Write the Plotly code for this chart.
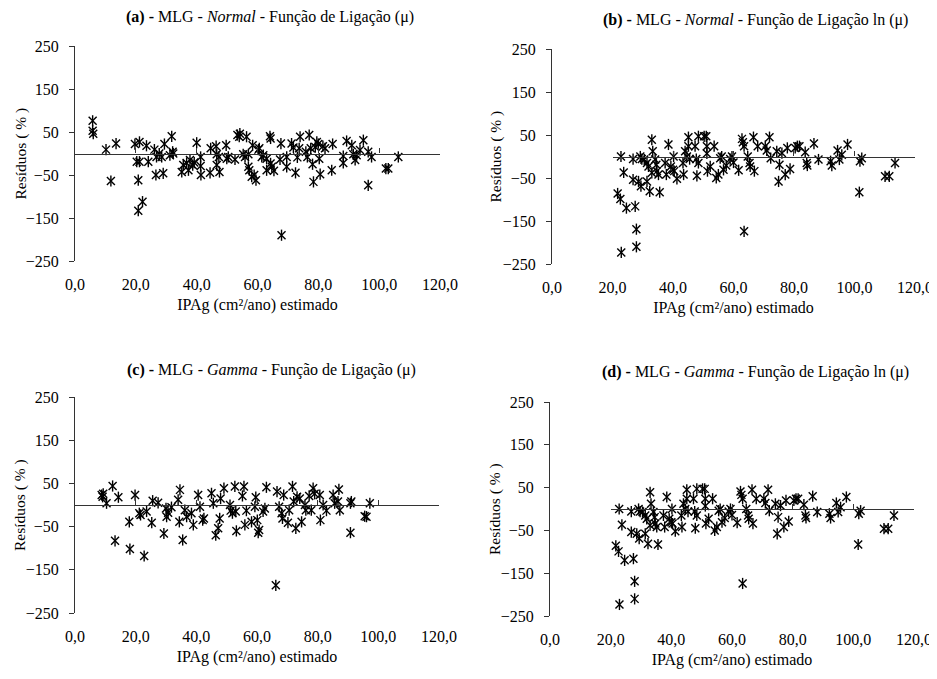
import plotly.graph_objects as go

# ---------------- data ----------------
x_a = [5.8, 5.8, 6.0, 10.2, 11.8, 13.5, 19.7, 21.2, 20.3, 21.2, 20.8, 22.2, 20.8, 23.5, 24.1, 26.1, 26.8, 26.6, 27.7, 28.5,
       29.0, 29.4, 31.2, 31.8, 32.1, 32.3, 35.1, 35.6, 36.7, 37.3, 37.8, 38.7, 39.2, 40.0, 41.3, 41.3, 41.4, 44.4, 44.6, 46.4,
       46.6, 46.6, 47.3, 47.5, 49.7, 49.9, 50.4, 52.6, 53.4, 54.0, 54.2, 55.3, 55.9, 56.4, 57.0, 57.0, 57.3, 58.1, 58.4, 58.9,
       59.5, 60.3, 60.6, 61.4, 61.9, 63.0, 63.0, 64.1, 64.3, 64.3, 64.7, 65.4, 67.4, 67.7, 67.9, 69.6, 69.6, 71.2, 71.8, 72.5,
       73.1, 73.7, 74.0, 75.9, 76.4, 77.0, 77.5, 78.1, 78.4, 79.0, 79.5, 80.0, 80.3, 80.6, 81.5, 82.2, 84.7, 84.4, 88.2, 88.2,
       89.3, 91.0, 91.5, 92.1, 92.6, 93.7, 94.8, 96.4, 96.4, 97.5, 102.2, 103.0, 106.3]
y_a = [76, 53, 46, 9, -64, 23, 22, 27, -19, -19, -62, -112, -133, 18, -19, 9, -8, -50, 0, -8,
       -46, 22, -4, 40, 4, 0, -43, -27, -22, -39, -15, -27, -21, 25, -8, -29, -50, -45, 12, 17,
       -2, -27, -8, -43, 19, -12, -8, -14, 43, 39, 46, -2, -8, 39, -2, -31, -39, -54, 19, -50,
       -62, 9, 12, -8, -4, -12, -39, 40, 35, -23, -31, -40, -14, 23, -190, -8, -31, 23, 14, -45,
       -9, 12, 39, 4, -8, 43, 12, -25, -66, 15, 27, 22, -12, -48, 17, 12, 22, -39, -6, -22,
       29, 19, -2, -15, -4, 8, 31, 4, -74, -8, -35, -35, -8]

x_b = [21.7, 22.6, 22.8, 22.9, 23.7, 24.6, 26.8, 26.8, 27.5, 27.9, 27.9, 28.6, 29.2, 29.4, 29.7, 30.5, 31.4, 31.4, 31.9, 32.3,
       33.0, 33.3, 33.0, 34.1, 34.5, 34.7, 35.2, 35.6, 37.4, 37.8, 38.5, 39.3, 40.0, 40.2, 40.4, 41.3, 43.3, 43.5, 44.0, 44.6,
       45.1, 45.1, 45.5, 47.3, 47.7, 47.9, 48.4, 48.4, 50.3, 51.0, 51.2, 51.2, 51.4, 52.3, 53.6, 54.3, 55.0, 55.6, 56.1, 56.7,
       57.6, 58.9, 59.5, 60.0, 61.7, 62.8, 63.1, 63.5, 63.5, 64.7, 65.3, 65.5, 66.6, 66.9, 68.0, 70.5, 71.0, 71.9, 72.3, 74.3,
       74.9, 75.2, 76.0, 77.1, 77.8, 78.7, 80.4, 81.1, 81.8, 83.7, 84.2, 84.4, 86.6, 88.1, 92.1, 92.5, 94.4, 95.0, 95.8, 97.7,
       101.6, 101.8, 102.4, 110.1, 111.5, 113.4]
y_b = [-86, -99, 0, -223, -37, -120, -6, -54, -116, -169, -210, -58, 0, -69, -6, -7, -15, -58, -23, -81,
       39, 12, -38, -7, -19, -34, -42, -83, -15, -42, 28, -23, -31, 0, -34, -52, -15, -42, 12, 0,
       45, 24, -6, 24, -6, -45, -15, 47, 47, 47, 24, 7, -34, -23, 24, -50, -42, -4, 0, -31,
       -21, -6, 0, -14, -32, 41, 33, 24, -174, 0, -15, -23, 45, -34, 24, 24, 14, 45, -4, 12,
       -58, -19, 8, -42, 20, -29, 20, 24, 24, 10, -15, -21, 30, -7, -11, -21, 14, -7, 4, 28,
       -83, -11, -4, -46, -46, -15]

x_c = [8.8, 9.3, 9.1, 10.4, 12.4, 13.2, 14.3, 17.9, 18.1, 19.8, 21.2, 21.6, 22.8, 23.6, 25.3, 25.6, 27.4, 29.3, 30.0, 30.2,
       30.7, 31.8, 34.0, 34.6, 34.4, 35.5, 36.2, 36.8, 38.4, 39.0, 40.6, 41.2, 42.1, 42.5, 45.0, 45.6, 46.4, 47.2, 47.7, 48.0,
       49.1, 51.1, 51.3, 51.9, 52.7, 53.0, 53.2, 55.2, 55.7, 56.0, 56.5, 58.2, 59.3, 59.6, 60.1, 60.4, 60.7, 62.0, 62.6, 63.1,
       66.2, 66.6, 67.3, 68.1, 68.4, 68.8, 70.2, 70.6, 71.7, 72.1, 72.8, 73.2, 74.1, 74.7, 75.8, 76.1, 77.2, 77.9, 78.5, 79.0,
       80.7, 80.9, 81.8, 82.9, 85.1, 85.6, 86.7, 87.0, 87.3, 90.8, 90.8, 91.1, 95.5, 96.1, 97.2]
y_c = [23, 26, 19, 4, 44, -83, 18, -39, -102, 23, -19, -23, -118, -15, -41, 10, 5, -66, -8, -27,
       -18, -5, 12, 35, -39, -81, -12, -27, -19, -46, 23, -4, -35, -31, 27, 4, -70, -54, -31, 15,
       39, 0, -13, -19, 43, -15, -60, 21, 43, -46, -13, -39, -4, 18, -35, -64, -58, -15, -8, 41,
       -186, 31, -4, -19, -31, 23, -41, -12, 43, 8, -54, 19, 15, -39, 0, -12, 21, -12, 39, 26,
       23, -35, 0, -13, 23, 4, 8, 36, -12, 4, -64, 8, -26, -27, 4]

x_d = list(x_b)
y_d = list(y_b)

titles = [
    "<b>(a) -</b> MLG - <i>Normal</i> - Função de Ligação (μ)",
    "<b>(b) -</b> MLG - <i>Normal</i> - Função de Ligação ln (μ)",
    "<b>(c) -</b> MLG - <i>Gamma</i> - Função de Ligação (μ)",
    "<b>(d) -</b> MLG - <i>Gamma</i> - Função de Ligação ln (μ)",
]
x_title = "IPAg (cm²/ano) estimado"
y_title = "Resíduos ( % )"
x_ticks = [0, 20, 40, 60, 80, 100, 120]
y_ticks = [-250, -150, -50, 50, 150, 250]
zero_line_start = [0, 20, 0, 20]

# ---------------- layout geometry (pixels in the 937x679 window) ----------------
OFF = 8                      # default page body margin
W, H = 937 - OFF, 679 - OFF  # figure size so that it ends at the window edge
panels = [
    dict(x0=75, x1=440, top=46, bot=261, tx=270, ty=17, yt_x=20),
    dict(x0=552, x1=915, top=49, bot=264, tx=755, ty=20, yt_x=495),
    dict(x0=75, x1=439, top=397, bot=613, tx=271, ty=370, yt_x=20),
    dict(x0=550, x1=914, top=402, bot=616, tx=755, ty=372, yt_x=495),
]
data = [(x_a, y_a), (x_b, y_b), (x_c, y_c), (x_d, y_d)]


def px(v):
    return (v - OFF) / W


def py(v):
    return 1 - (v - OFF) / H


FONT = "Liberation Serif"
FS_TICK = 16
FS_TITLE = 16
AX = "#333333"
CLEAR = "rgba(0,0,0,0)"

fig = go.Figure()
layout = dict(
    template="none",
    width=W, height=H, margin=dict(l=0, r=0, t=0, b=0, pad=0, autoexpand=False),
    paper_bgcolor="white", plot_bgcolor=CLEAR, showlegend=False,
    font=dict(family=FONT, size=FS_TICK, color="black"),
    separators=",.",
    annotations=[],
)

for i, (p, (xs, ys)) in enumerate(zip(panels, data)):
    n = i + 1
    xa = "x" if n == 1 else f"x{n}"
    ya = "y" if n == 1 else f"y{n}"
    xz = f"x{n + 4}"
    dom_x = [px(p["x0"]), px(p["x1"])]
    dom_y = [py(p["bot"]), py(p["top"])]
    # empty trace to create the zero-line axis
    fig.add_trace(go.Scatter(x=[], y=[], xaxis=xz, yaxis=ya, mode="markers"))
    # markers: star = x plus vertical bar
    for sym in ["x-thin-open", "line-ns-open"]:
        fig.add_trace(go.Scatter(
            x=xs, y=ys, mode="markers", xaxis=xa, yaxis=ya, cliponaxis=False,
            marker=dict(symbol=sym, size=8, color="black",
                        line=dict(width=1.4, color="black")),
            hoverinfo="x+y"))

    layout["xaxis" if n == 1 else f"xaxis{n}"] = dict(
        domain=dom_x, anchor=ya, range=[0, 120], showline=False, showgrid=False,
        zeroline=False, automargin=False, tickmode="array", tickvals=x_ticks,
        tickformat=".1f", ticks="", ticklabelstandoff=12,
        tickfont=dict(family=FONT, size=FS_TICK, color="black"),
        title=dict(text=x_title, font=dict(family=FONT, size=FS_TICK, color="black"), standoff=6),
    )
    layout["yaxis" if n == 1 else f"yaxis{n}"] = dict(
        domain=dom_y, anchor=xa, range=[-250, 250], showline=True, linecolor=AX,
        linewidth=1, showgrid=False, zeroline=False, automargin=False,
        tickmode="array", tickvals=y_ticks, ticks="outside", ticklen=5,
        tickcolor=AX, tickwidth=1, ticklabelstandoff=7,
        tickfont=dict(family=FONT, size=FS_TICK, color="black"),
    )
    # zero line axis
    zs = zero_line_start[i]
    zx0 = dom_x[0] + (zs / 120) * (dom_x[1] - dom_x[0])
    layout[f"xaxis{n + 4}"] = dict(
        domain=[zx0, dom_x[1]], anchor="free", position=(dom_y[0] + dom_y[1]) / 2,
        range=[zs - 0.05, 120.05], showline=True, linecolor=AX, linewidth=1.2,
        showgrid=False, zeroline=False, automargin=False, tickmode="array",
        tickvals=[v for v in x_ticks if v >= zs], ticks="inside", ticklen=5,
        tickcolor=AX, tickwidth=1, showticklabels=False,
    )
    # title
    layout["annotations"].append(dict(
        text=titles[i], x=px(p["tx"]), y=py(p["ty"]), xref="paper", yref="paper",
        xanchor="center", yanchor="middle", showarrow=False,
        font=dict(family=FONT, size=FS_TITLE, color="black")))
    # y title
    layout["annotations"].append(dict(
        text=y_title, x=px(p["yt_x"]), y=(dom_y[0] + dom_y[1]) / 2, xref="paper", yref="paper",
        xanchor="center", yanchor="middle", textangle=-90, showarrow=False,
        font=dict(family=FONT, size=15.5, color="black")))

fig.update_layout(**layout)
fig.write_html("out.html")
